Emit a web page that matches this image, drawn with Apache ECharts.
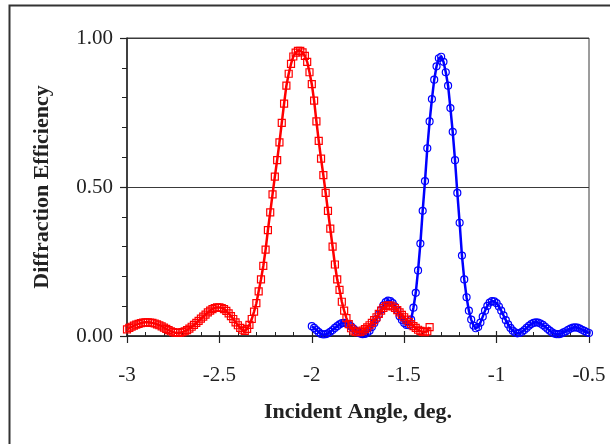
<!DOCTYPE html>
<html>
<head>
<meta charset="utf-8">
<script src="https://cdn.jsdelivr.net/npm/echarts@6/dist/echarts.min.js"></script>
<style>
  html, body { margin: 0; padding: 0; background: #fff; }
  #chart { width: 610px; height: 444px; }
</style>
</head>
<body>
<div id="chart"></div>
<script>
// Angular sampling of the measured curves (deg)
const redStart = -3.0;
const blueStart = -2.0;
const angleStep = 0.0125;

// Diffraction efficiency, red curve (squares)
const redValues = [
  0.022,0.027,0.031,0.035,0.038,0.041,0.043,0.045,0.046,0.046,
  0.045,0.044,0.042,0.039,0.036,0.032,0.028,0.024,0.020,0.016,
  0.013,0.011,0.010,0.011,0.013,0.016,0.020,0.025,0.031,0.037,
  0.044,0.051,0.058,0.065,0.072,0.079,0.085,0.090,0.094,0.096,
  0.096,0.094,0.090,0.084,0.076,0.067,0.057,0.046,0.036,0.027,
  0.021,
  0.017,0.024,0.037,0.057,0.082,0.110,0.150,0.190,0.235,0.290,
  0.355,0.415,0.475,0.535,0.590,0.650,0.715,0.780,0.840,0.880,
  0.913,0.938,0.951,0.957,0.957,0.952,0.940,0.920,0.885,0.845,
  0.790,0.720,0.655,0.595,0.540,0.480,0.420,0.360,0.300,0.240,
  0.190,0.155,0.115,0.085,0.060,0.040,0.026,0.018,0.014,0.013,
  0.014,0.018,0.023,0.029,0.036,0.044,0.053,0.063,0.074,0.085,
  0.094,0.100,0.103,0.102,0.099,0.094,0.087,0.079,0.071,0.063,
  0.055,0.047,0.040,0.033,0.027,0.021,0.017,0.014,0.013,0.016,
  0.030
];

// Diffraction efficiency, blue curve (circles)
const blueValues = [
  0.033,0.027,0.020,0.013,0.007,0.005,0.006,0.009,0.014,0.020,
  0.027,0.033,0.039,0.043,0.044,0.042,0.038,0.032,0.025,0.018,
  0.012,0.008,0.006,0.007,0.011,0.018,0.030,0.043,0.057,0.072,
  0.088,0.103,0.114,0.119,0.117,0.110,0.099,0.086,0.066,0.054,
  0.044,0.037,0.036,0.055,0.095,0.145,0.220,0.310,0.420,0.520,
  0.630,0.720,0.795,0.860,0.905,0.932,0.937,0.920,0.885,0.840,
  0.765,0.685,0.590,0.480,0.380,0.270,0.190,0.130,0.085,0.055,
  0.035,0.026,0.030,0.045,0.065,0.085,0.101,0.112,0.117,0.116,
  0.110,0.099,0.085,0.069,0.053,0.039,0.027,0.018,0.012,0.009,
  0.010,0.014,0.020,0.027,0.034,0.040,0.044,0.046,0.045,0.042,
  0.037,0.031,0.024,0.018,0.012,0.008,0.006,0.006,0.008,0.012,
  0.016,0.021,0.025,0.028,0.029,0.028,0.025,0.021,0.017,0.013,
  0.010
];

const xTicks = [-3, -2.5, -2, -1.5, -1, -0.5];
const yTicks = [0, 0.5, 1.0];
const xTitle = 'Incident Angle, deg.';
const yTitle = 'Diffraction Efficiency';

function pairs(start, values) {
  return values.map((v, i) => [Math.round((start + i * angleStep) * 10000) / 10000, v]);
}

const serif = '"Liberation Serif", "Times New Roman", serif';
const chart = echarts.init(document.getElementById('chart'), null, { renderer: 'canvas' });

const option = {
  animation: false,
  backgroundColor: '#fff',
  grid: {
    left: 127, top: 38, right: 21, bottom: 108,
    show: true, borderColor: '#3a3a3a', borderWidth: 1, backgroundColor: 'transparent'
  },
  graphic: [{
    type: 'rect',
    shape: { x: 9.5, y: 5.5, width: 700, height: 500 },
    style: { fill: 'none', stroke: '#333', lineWidth: 2 },
    silent: true, z: -1
  }],
  xAxis: [{
    type: 'value',
    min: xTicks[0], max: xTicks[xTicks.length - 1], interval: 0.5,
    position: 'bottom',
    name: xTitle, nameLocation: 'middle', nameGap: 65,
    nameTextStyle: { fontFamily: serif, fontSize: 22, fontWeight: 'bold', color: '#222' },
    axisLine: { show: true, onZero: false, lineStyle: { color: '#222', width: 1.5 } },
    axisTick: { show: true, inside: false, length: 7, lineStyle: { color: '#222', width: 1.2 } },
    minorTick: { show: false },
    axisLabel: { fontFamily: serif, fontSize: 21, color: '#222', margin: 29 },
    splitLine: { show: false }
  }, {
    type: 'value',
    min: xTicks[0], max: xTicks[xTicks.length - 1], interval: 0.5,
    position: 'bottom',
    axisLine: { show: false, onZero: false },
    axisTick: { show: true, inside: true, length: 5, lineStyle: { color: '#222', width: 1.2 } },
    minorTick: { show: true, splitNumber: 5, length: 4, lineStyle: { color: '#222', width: 1 } },
    axisLabel: { show: false },
    splitLine: { show: false }
  }],
  yAxis: {
    type: 'value',
    min: yTicks[0], max: yTicks[yTicks.length - 1], interval: 0.5,
    name: yTitle, nameLocation: 'middle', nameGap: 74, nameRotate: 90,
    nameTextStyle: { fontFamily: serif, fontSize: 22, fontWeight: 'bold', color: '#222' },
    axisLine: { show: true, onZero: false, lineStyle: { color: '#222', width: 1.5 } },
    axisTick: { show: true, inside: false, length: 7, lineStyle: { color: '#222', width: 1.2 } },
    minorTick: { show: true, splitNumber: 5, length: 5, lineStyle: { color: '#222', width: 1 } },
    axisLabel: { fontFamily: serif, fontSize: 21, color: '#222', margin: 14,
      formatter: v => v.toFixed(2) },
    splitLine: { show: true, lineStyle: { color: '#3a3a3a', width: 1 } }
  },
  series: [{
    type: 'line',
    data: pairs(blueStart, blueValues),
    xAxisIndex: 0,
    symbol: 'circle', symbolSize: 7,
    showAllSymbol: true,
    lineStyle: { color: '#0000FF', width: 2.5 },
    itemStyle: { color: 'rgba(0,0,0,0)', borderColor: '#0000FF', borderWidth: 1.2 },
    z: 2
  }, {
    type: 'line',
    data: pairs(redStart, redValues),
    xAxisIndex: 0,
    symbol: 'rect', symbolSize: 7,
    showAllSymbol: true,
    lineStyle: { color: '#FF0000', width: 2.5 },
    itemStyle: { color: 'rgba(0,0,0,0)', borderColor: '#FF0000', borderWidth: 1.2 },
    z: 3
  }]
};
chart.setOption(option);
</script>
</body>
</html>
